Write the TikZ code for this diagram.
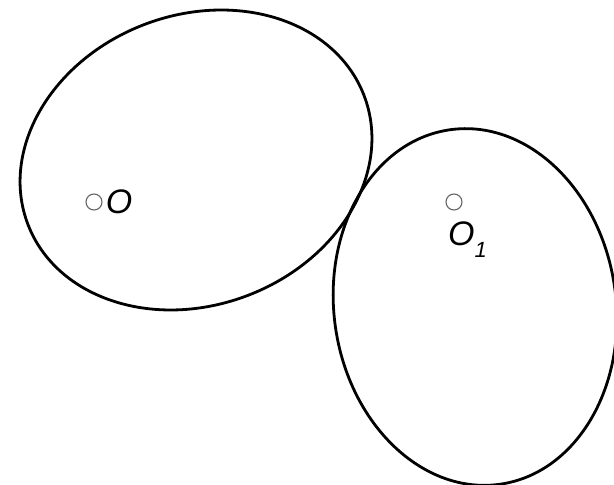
\documentclass[tikz,border=0pt]{standalone}
\usepackage{fontspec}
\setsansfont{Liberation Sans}
\usetikzlibrary{positioning, shapes.geometric}

\begin{document}
\begin{tikzpicture}[x=1pt, y=1pt,
  contour/.style={ellipse, draw, line width=2.8pt, inner sep=0pt},
  centre/.style={circle, draw=black!60, line width=1.1pt, minimum size=16pt, inner sep=0pt},
  lab/.style={font=\sffamily\itshape\fontsize{34}{34}\selectfont, inner sep=0pt}
]
\useasboundingbox (0,0) rectangle (614,485);
\clip (0,0) rectangle (614,485);
\node[contour, minimum width=360pt, minimum height=290pt, rotate=21] (E) at (196,325) {};
\node[contour, minimum width=282pt, minimum height=358pt, rotate=8] (E1) at (475,178) {};

\node[centre] (O) at (94,283) {};
\node[lab, right=3pt of O] (Olab) {O};
\node[centre] (O1) at (454,283) {};
\node[lab, below right=14pt and -12pt of O1] (O1lab) {O\raisebox{-0.35em}{\fontsize{22}{22}\selectfont 1}};
\end{tikzpicture}
\end{document}
